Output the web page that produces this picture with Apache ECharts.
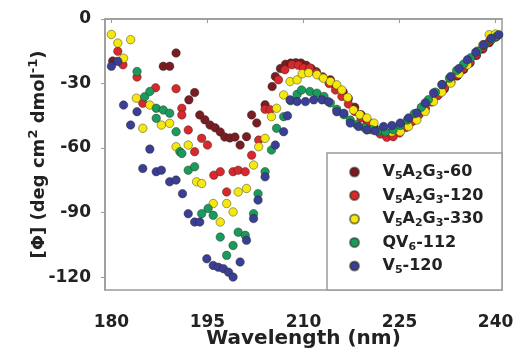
<!DOCTYPE html>
<html>
<head>
<meta charset="utf-8">
<script src="https://cdn.jsdelivr.net/npm/echarts@6/dist/echarts.min.js"></script>
<style>html,body{margin:0;padding:0;background:#fff;}#c{width:514px;height:349px;}</style>
</head>
<body>
<div id="c"></div>
<script>
// ---- data (wavelength nm, [Φ]) ----
const seriesNames = ['V5A2G3-60', 'V5A2G3-120', 'V5A2G3-330', 'QV6-112', 'V5-120'];
const legendRich = ['V{s|5}A{s|2}G{s|3}-60', 'V{s|5}A{s|2}G{s|3}-120', 'V{s|5}A{s|2}G{s|3}-330', 'QV{s|6}-112', 'V{s|5}-120'];
const xTicks = [180, 195, 210, 225, 240];
const yTicks = [-120, -90, -60, -30, 0];

const d60 = [[180.2,-19.5],[188.1,-22],[189.1,-22],[190.1,-15.8],[192.1,-37.6],[193,-34.2],[193.8,-44.6],[194.6,-46.9],[195.4,-49.3],[196.2,-50.6],[197,-52.5],[197.7,-54.9],[198.5,-55.3],[199.3,-54.9],[200.1,-58.6],[201.1,-54.7],[201.9,-44.6],[202.7,-48.3],[204,-39.9],[205.1,-31.4],[205.6,-26.7],[206.4,-23],[207.2,-21],[208,-20.5],[208.8,-20.3],[209.6,-20.5],[210.4,-21.5],[211.2,-23],[212,-24.5],[213,-27],[214.2,-28.3],[215,-31],[216.2,-33.9],[217,-37],[218,-41],[219,-44.5],[220,-47.5],[221,-50],[222,-53],[223,-54.5],[224,-53.5],[225,-52],[226,-50],[227,-47.5],[228,-44.5],[229,-41.5],[230,-38.5],[231,-35.5],[232,-32.5],[233,-29.5],[234,-26.5],[235,-23.5],[236,-20.5],[237,-17],[238,-14],[239,-11],[240,-8]];

const d120 = [[181,-15],[181.8,-21.3],[184,-27],[184.9,-39.2],[186.9,-32],[190.1,-32.4],[191,-41.5],[191,-44.6],[192,-51.6],[193,-61.7],[194.1,-55.5],[195,-58.6],[196,-72.6],[197,-71],[198,-80.4],[199,-71],[199.8,-70.3],[200.9,-71],[201.9,-63.3],[203,-56.3],[204,-42],[204.8,-42.2],[206.1,-28.3],[207.1,-23.6],[208.2,-21.3],[209.2,-21.5],[210,-22.8],[211,-22.8],[212,-25],[213,-27],[214,-30],[215,-33],[216,-36],[217,-39.5],[218,-43],[219,-46],[220,-49],[221,-51.5],[222,-53.5],[223,-55],[224,-54.7],[225,-53],[226,-50.5],[227,-47.5],[228,-44.5],[229,-41.5],[230,-38.5],[231,-35.5],[232,-32],[233,-29],[234,-26],[235,-23],[236,-20],[237,-16.5],[238,-13.5],[239,-10.5],[240,-8.5]];

const d330 = [[180,-7.2],[181,-11.2],[183,-9.6],[181.9,-18.2],[183.9,-36.8],[186,-40],[184.9,-50.8],[187.8,-49.3],[189.1,-48.5],[190.1,-59.4],[192,-58.6],[193.3,-75.7],[194.1,-76.5],[195.9,-85.8],[197,-94.4],[198,-85.8],[199,-89.7],[199.8,-80.4],[201.1,-78.8],[202.2,-67.9],[203,-59.4],[204,-55.5],[205,-45.4],[205.8,-41.5],[206.9,-35.3],[207.9,-29.1],[209,-28.3],[209.8,-25.5],[210.8,-25],[212.1,-25.9],[213.1,-27.5],[214.2,-29.1],[215.2,-30.6],[216,-33],[216.9,-36.5],[217.8,-42.3],[218.8,-44.5],[219.9,-46],[221,-48.4],[222.5,-51.6],[223.8,-52.5],[225.1,-52.4],[226.4,-50],[227.7,-47],[229,-43],[230.3,-38.4],[231.6,-34],[233,-29.8],[234.3,-25.5],[235.6,-21.3],[237.1,-15],[238,-12],[239,-7.3],[240,-7]];

const dQV = [[184,-24.4],[185.2,-36.1],[186,-33.7],[187,-41.5],[188.1,-42.3],[189.1,-43.8],[187,-46.2],[190.1,-52.4],[190.7,-61.7],[191,-62.5],[192,-70.3],[193,-68.7],[194.1,-90.5],[195.1,-88.1],[195.9,-91.3],[197,-101.4],[198,-109.9],[199,-105.3],[199.8,-99.1],[200.9,-100.6],[202.2,-90.5],[202.9,-81.2],[204,-71],[205,-60.9],[205.8,-50.8],[206.9,-45.4],[208,-38],[209,-35],[209.7,-33],[211,-33.7],[212.1,-34.5],[213.2,-36],[214.2,-39],[215.2,-42],[216.3,-44.5],[217.3,-47],[218.3,-49],[219.5,-50.5],[220.6,-51.5],[221.7,-52],[222.8,-52.5],[224,-51.5],[225.1,-49.5],[226.2,-47],[227.3,-44],[228.4,-41],[229.5,-37.5],[230.6,-34],[231.7,-30.5],[232.8,-27.5],[233.9,-24],[235,-21],[236.1,-18],[237.2,-15],[238.3,-12],[239.4,-9.5],[240.2,-8]];

const dV5 = [[180,-22],[181,-19.7],[181.9,-40],[184,-43.1],[183,-49.3],[186,-60.5],[184.9,-69.5],[187,-71],[187.8,-70.3],[189.1,-75.7],[190.1,-74.9],[191.1,-81.2],[192,-90.5],[193,-94.4],[193.8,-94.4],[194.9,-111.5],[195.9,-114.6],[196.7,-115.4],[197.5,-116.1],[198.3,-117.7],[199,-120],[200.1,-113],[201.1,-102.9],[202.2,-92.8],[202.9,-84.2],[204,-73.4],[205.6,-58.6],[206.9,-52.4],[207.5,-45],[207.9,-37.6],[209,-38.4],[210.3,-38.4],[211.6,-37.6],[212.9,-37.6],[213.9,-38.5],[215.2,-43.1],[216.3,-43.8],[217.3,-48.4],[218.6,-50],[219.9,-51.6],[221.2,-52],[222.5,-50],[223.8,-49.5],[225.1,-48.4],[226.4,-46],[227.7,-43.7],[229,-39],[230.3,-34.4],[231.6,-30.5],[233,-26.7],[234.3,-23],[235.6,-19],[236.9,-15.5],[238.1,-12],[239.3,-9],[240.5,-7.3]];

const allData = [d60, d120, d330, dQV, dV5];
const colors = ['#7a1c24', '#d8282e', '#f4e810', '#1a9a5c', '#3a3e97'];

const FONT = 'DejaVu Sans';
const chart = echarts.init(document.getElementById('c'), null, {renderer: 'canvas'});
const frameColor = '#9a9a9a';

chart.setOption({
  animation: false,
  backgroundColor: '#fff',
  grid: {left: 105, right: 12, top: 19, bottom: 59, containLabel: false, outerBoundsMode: 'none',
    show: true, borderColor: frameColor, borderWidth: 1.5, backgroundColor: 'transparent'},
  xAxis: {
    type: 'value', min: 179, max: 241,
    splitLine: {show: false},
    axisLine: {show: true, lineStyle: {color: frameColor, width: 1.5}},
    axisTick: {show: true, inside: false, length: 4, customValues: xTicks, lineStyle: {color: frameColor}},
    axisLabel: {customValues: xTicks, margin: 24, color: '#222', fontFamily: FONT, fontWeight: 'bold', fontSize: 17},
    name: 'Wavelength (nm)', nameLocation: 'middle', nameGap: 39, nameMoveOverlap: false,
    nameTextStyle: {color: '#222', fontFamily: FONT, fontWeight: 'bold', fontSize: 20}
  },
  yAxis: {
    type: 'value', min: -126, max: 0,
    splitLine: {show: false},
    axisLine: {show: true, lineStyle: {color: frameColor, width: 1.5}},
    axisTick: {show: true, inside: false, length: 4, customValues: yTicks, lineStyle: {color: frameColor}},
    axisLabel: {customValues: yTicks, margin: 14, color: '#222', fontFamily: FONT, fontWeight: 'bold', fontSize: 17},
    name: '[Φ] (deg cm{sup|2} dmol{sup|-1})', nameLocation: 'middle', nameGap: 54, nameRotate: 90, nameMoveOverlap: false,
    nameTextStyle: {color: '#222', fontFamily: FONT, fontWeight: 'bold', fontSize: 18, lineHeight: 24,
      rich: {sup: {fontFamily: FONT, fontWeight: 'bold', fontSize: 13, lineHeight: 13, verticalAlign: 'top', color: '#222'}}}
  },
  legend: {
    orient: 'vertical', left: 349, top: 162, padding: 0,
    itemWidth: 46, itemHeight: 9, itemGap: 3.5,
    icon: 'circle',
    data: seriesNames,
    formatter: function (name) { return legendRich[seriesNames.indexOf(name)]; },
    textStyle: {color: '#222', fontFamily: FONT, fontWeight: 'bold', fontSize: 16, lineHeight: 20,
      rich: {s: {fontFamily: FONT, fontWeight: 'bold', fontSize: 11, lineHeight: 12, verticalAlign: 'bottom', color: '#222'}}},
    z: 20
  },
  graphic: [{
    type: 'rect', shape: {x: 327, y: 153, width: 175, height: 137},
    style: {fill: '#fff', stroke: frameColor, lineWidth: 1.5}, z: 10, silent: true
  }],
  series: allData.map((d, i) => ({
    name: seriesNames[i], type: 'scatter', data: d,
    symbol: 'circle', symbolSize: 8.5,
    itemStyle: {color: colors[i], borderColor: 'rgba(40,40,20,0.55)', borderWidth: 0.8, opacity: 1},
    z: 2 + i
  }))
});
</script>
</body>
</html>
